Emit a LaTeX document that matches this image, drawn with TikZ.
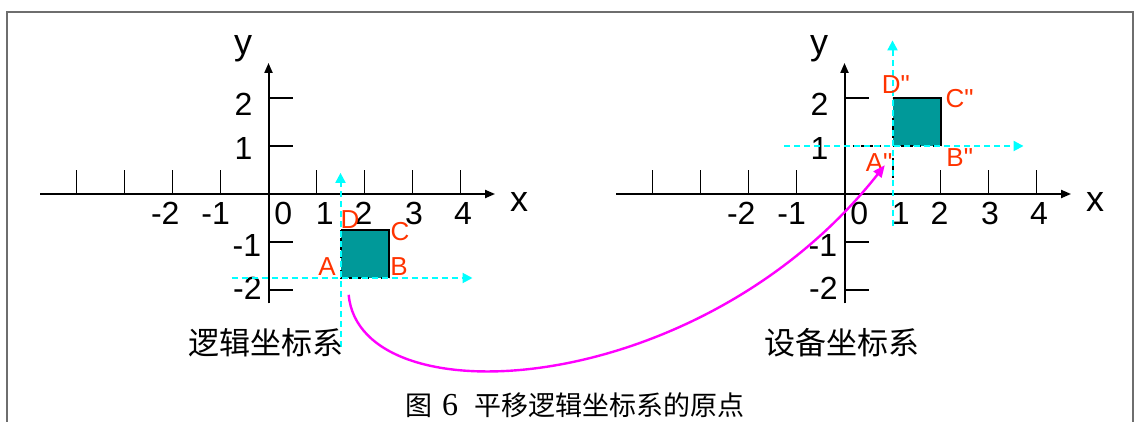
\documentclass[tikz,border=0pt]{standalone}
\usepackage{fontspec}
\setmainfont{Liberation Sans}
\newfontfamily\plainfont{Liberation Sans}[Ligatures=TeXOff]
\newfontfamily\cjk{Noto Sans CJK SC}
\newfontfamily\capfont{Liberation Serif}
\usetikzlibrary{arrows.meta}
\definecolor{Frame}{HTML}{6E6E6E}
\definecolor{Teal}{HTML}{009999}
\definecolor{Aqua}{HTML}{00FFFF}
\definecolor{Red}{HTML}{FF3300}
\definecolor{Magenta}{HTML}{FF00FF}
\tikzset{
  axis/.style={line width=1pt,-{Triangle[length=5pt,width=4pt]}},
  tickmark/.style={line width=0.8pt},
  guide/.style={Aqua,line width=1pt,dash pattern=on 3pt off 2pt,-{Triangle[length=5pt,width=5pt]}},
  edgedash/.style={line width=1pt,dash pattern=on 2pt off 2pt},
  num/.style={inner sep=0pt,font=\fontsize{16}{18}\selectfont},
  axlab/.style={inner sep=0pt,font=\fontsize{18}{20}\selectfont},
  ptlab/.style={inner sep=0pt,text=Red,font=\plainfont\fontsize{13}{15}\selectfont},
  syslab/.style={inner sep=0pt,font=\cjk\fontsize{15.5}{17}\selectfont}
}
\begin{document}
\begin{tikzpicture}[x=0.5pt,y=-0.5pt]
  \useasboundingbox (0,0) rectangle (1135,422);
  \draw[Frame,line width=1pt] (7,422) -- (7,12) -- (1133,12) -- (1133,422);
  % both coordinate systems
  \foreach \sys/\ox/\xt/\yt in {L/268.5/{-4,-3,-2,-1,1,2,3,4}/{-2,-1,1,2},R/844.5/{-4,-3,-2,-1,2,3,4}/{-2,-1,2}} {
    \begin{scope}[shift={(\ox,194)},x=24pt,y=24pt]
      \draw[axis] (-4.76,0) -- (4.72,0);
      \draw[axis] (0,-2.28) -- (0,2.73);
      \foreach \t in \xt \draw[tickmark] (\t,0) -- (\t,0.5);
      \foreach \t in \yt \draw[tickmark] (0,\t) -- (0.5,\t);
      \foreach \t/\px [count=\i] in {-2/-2.15,-1/-1.1,0/0.31,1/1.17,2/1.98,3/3.03,4/4.05}
        \node[num] (\sys xn\i) at (\px,-0.4) {\t};
      \foreach \t/\px/\py [count=\i] in {2/-0.52/1.86,1/-0.52/0.94,-1/-0.45/-1.07,-2/-0.44/-1.96}
        \node[num] (\sys yn\i) at (\px,\py) {\t};
      \node[axlab] (\sys xlab) at (5.22,-0.16) {x};
      \node[axlab] (\sys ylab) at (-0.53,3.02) {y};
    \end{scope}
  }
  % logical system
  \begin{scope}[shift={(268.5,194)},x=24pt,y=24pt]
    \fill[Teal] (1.5,-1.75) rectangle (2.5,-0.75);
    \draw[line width=1pt] (1.5,-0.75) -- (2.5,-0.75) -- (2.5,-1.75);
    \draw[edgedash] (1.5,-0.75) -- (1.5,-1.75) -- (2.5,-1.75);
    \draw[guide] (1.5,-3.19) -- (1.5,0.44);
    \draw[guide] (-0.77,-1.75) -- (4.25,-1.75);
    \node[ptlab] (ptA) at (1.22,-1.51) {A};
    \node[ptlab] (ptB) at (2.72,-1.51) {B};
    \node[ptlab] (ptC) at (2.74,-0.79) {C};
    \node[ptlab] (ptD) at (1.70,-0.54) {D};
    \coordinate (curvestart) at (1.67,-2.1);
  \end{scope}
  % device system
  \begin{scope}[shift={(844.5,194)},x=24pt,y=24pt]
    \fill[Teal] (1,1) rectangle (2,2);
    \draw[line width=1pt] (1,2) -- (2,2) -- (2,1);
    \draw[edgedash] (0,1) -- (2,1);
    \draw[edgedash] (1,0) -- (1,2);
    \draw[guide] (1,-0.67) -- (1,3.2);
    \draw[guide] (-1.26,1) -- (3.73,1);
    \node[ptlab] (ptA2) at (0.72,0.65) {A"};
    \node[ptlab] (ptB2) at (2.40,0.75) {B"};
    \node[ptlab] (ptC2) at (2.40,1.99) {C"};
    \node[ptlab] (ptD2) at (1.07,2.27) {D"};
    \coordinate (curveend) at (0.84,0.6);
  \end{scope}
  \node[syslab] (logical) at (266,343) {逻辑坐标系};
  \node[syslab] (device) at (842,343) {设备坐标系};
  \node[inner sep=0pt,font=\cjk\fontsize{13.5}{15}\selectfont] (caption) at (575,405) {图\hspace{0.35em}{\capfont\fontsize{16}{18}\selectfont 6}\hspace{0.6em}平移逻辑坐标系的原点};
  \draw[Magenta,line width=1.2pt,-{Triangle[length=6pt,width=5pt]}] (curvestart) .. controls (360,420) and (700,400) .. (curveend);
\end{tikzpicture}
\end{document}
